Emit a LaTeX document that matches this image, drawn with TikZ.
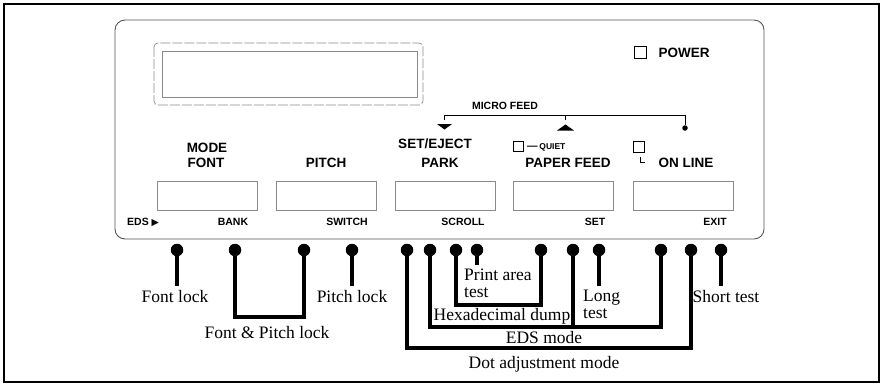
\documentclass[tikz,border=0pt]{standalone}
\usepackage{fontspec}
\setmainfont{Liberation Serif}
\setsansfont{Liberation Sans}
\newfontfamily\symfont{DejaVu Sans}
\usepackage{tikz}
\usetikzlibrary{positioning}
\definecolor{faded}{HTML}{8A8A8A}
\definecolor{panelgray}{HTML}{555555}

\begin{document}
\begin{tikzpicture}[x=1pt, y=-1pt,
    key/.style={font=\sffamily\bfseries\fontsize{13.5}{15}\selectfont, inner sep=0pt, anchor=base},
    keysm/.style={font=\sffamily\bfseries\fontsize{10.5}{12}\selectfont, inner sep=0pt, anchor=base},
    btn/.style={rectangle, draw=faded, line width=0.7pt, minimum width=100pt, minimum height=29pt, inner sep=0pt},
    led/.style={rectangle, draw, line width=0.9pt, minimum size=#1, inner sep=0pt},
    capt/.style={font=\fontsize{17.5}{17}\selectfont, inner sep=4pt, anchor=base},
    pin/.style={circle, fill, inner sep=0pt, minimum size=12.5pt},
    wire/.style={line width=4.8pt, line join=miter},
    bracket/.style={line width=0.8pt}
]
    \useasboundingbox (0,0) rectangle (885,384);
    \draw[line width=2pt] (4,4) rectangle (879,382);

    \draw[panelgray, line width=0.9pt, rounded corners=10pt] (115,20) rectangle (764,239);
    \draw[faded, line width=0.7pt, dash pattern=on 10pt off 2pt, rounded corners=4pt] (154,43) rectangle (423,105);
    \draw[faded, line width=0.7pt] (162,51) rectangle (417,97);

    \node[btn] (bfont) at (207,196) {};
    \node[btn] (bpitch) at (326,196) {};
    \node[btn] (bpark) at (445.5,196) {};
    \node[btn] (bfeed) at (563.5,196) {};
    \node[btn] (bline) at (683,196) {};

    \node[key] (mode) at (207,152) {MODE};
    \node[key] (font) at (206,167) {FONT};
    \node[key] (pitch) at (326,167) {PITCH};
    \node[key] (eject) at (435,148) {SET/EJECT};
    \node[key] (park) at (440,167) {PARK};
    \node[key] (feed) at (568,167) {PAPER FEED};
    \node[key] (online) at (686,167) {ON LINE};
    \node[key] (power) at (684,57) {POWER};
    \node[led=12pt] (powerled) at (640,52) {};
    \node[led=10pt] (quietled) at (518.5,146.5) {};
    \node[keysm, anchor=base west] (quiet) at (527,149) {---\,{\fontsize{8.5}{9}\selectfont QUIET}};
    \node[led=11pt] (lineled) at (638.5,147) {};
    \draw[line width=0.8pt] (640,157) |- (645,162);

    \node[keysm] (micro) at (505,109) {MICRO FEED};
    \node[circle, fill, inner sep=0pt, minimum size=5.5pt] (microdot) at (685,128) {};
    \coordinate (ejectmk) at (444.5,120);
    \coordinate (feedmk) at (565.5,120);
    \coordinate (mfbar) at (0,115);
    \draw[bracket] (ejectmk) |- (mfbar -| microdot) -- (microdot);
    \draw[bracket] (feedmk) -- (feedmk |- mfbar);
    \fill (437,124) -- (452,124) -- (444.5,129.5) -- cycle;
    \fill (557,130.5) -- (574,130.5) -- (565.5,124.5) -- cycle;

    \node[keysm, anchor=base west] (eds) at (127,225) {EDS {\symfont\fontsize{9.5}{9}\selectfont ▶}};
    \node[keysm] (bank) at (233,225) {BANK};
    \node[keysm] (switch) at (347,225) {SWITCH};
    \node[keysm] (scroll) at (463,225) {SCROLL};
    \node[keysm] (set) at (595,225) {SET};
    \node[keysm] (exit) at (715,225) {EXIT};

    \node[pin] (pfont) at (177,250) {};
    \node[pin] (pfp1) at (235,250) {};
    \node[pin] (pfp2) at (304,250) {};
    \node[pin] (ppitch) at (352,250) {};
    \node[pin] (pdot1) at (407,250) {};
    \node[pin] (peds1) at (430,250) {};
    \node[pin] (phex1) at (456,250) {};
    \node[pin] (pprint) at (477,250) {};
    \node[pin] (phex2) at (541,250) {};
    \node[pin] (peds2) at (573,250) {};
    \node[pin] (plong) at (599,250) {};
    \node[pin] (peds3) at (661,250) {};
    \node[pin] (pdot2) at (691,250) {};
    \node[pin] (pshort) at (721,250) {};

    \node[capt] (lfont) at (175,302) {Font lock};
    \node[capt] (lpitch) at (352,302) {Pitch lock};
    \node[capt] (lfp) at (267,338) {Font \& Pitch lock};
    \node[capt] (lhex) at (502,320) {Hexadecimal dump};
    \node[capt] (leds) at (544,343) {EDS mode};
    \node[capt] (ldot) at (544,368) {Dot adjustment mode};
    \node[capt] (lshort) at (726,302) {Short test};
    \node[capt, anchor=north west, align=left] (lprint) at (460,265) {Print area\\test};
    \node[capt, anchor=north west, align=left] (llong) at (579,286) {Long\\test};

    \coordinate (fpbot) at (0,317);
    \coordinate (hexbot) at (0,305);
    \coordinate (edsbot) at (0,327);
    \coordinate (dotbot) at (0,348);

    \draw[wire] (pfont.center) -- (pfont |- lfont.north);
    \draw[wire] (ppitch.center) -- (ppitch |- lpitch.north);
    \draw[wire] (pshort.center) -- (pshort |- lshort.north);
    \draw[wire] (pprint.center) -- (pprint |- lprint.north);
    \draw[wire] (plong.center) -- (plong |- llong.north);
    \draw[wire] (pfp1.center) |- (fpbot -| pfp2) -- (pfp2.center);
    \draw[wire] (phex1.center) |- (hexbot -| phex2) -- (phex2.center);
    \draw[wire] (peds1.center) |- (edsbot -| peds3) -- (peds3.center);
    \draw[wire] (peds2.center) -- (peds2 |- edsbot);
    \draw[wire] (pdot1.center) |- (dotbot -| pdot2) -- (pdot2.center);
\end{tikzpicture}
\end{document}
